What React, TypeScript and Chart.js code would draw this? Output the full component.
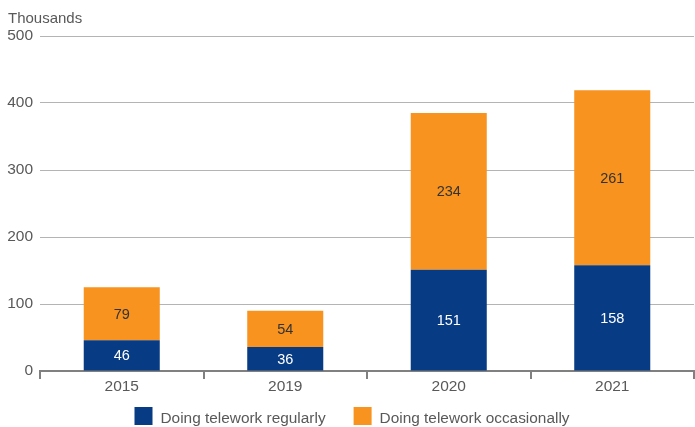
import { useEffect, useRef } from 'react';
import { Chart, registerables } from 'chart.js';

Chart.register(...registerables);

const years = ['2015', '2019', '2020', '2021'];
const regularValues = [46, 36, 151, 158];
const occasionalValues = [79, 54, 234, 261];
const seriesNames = ['Doing telework regularly', 'Doing telework occasionally'];
const seriesColors = ['#073B84', '#F7931E'];
const labelColors = ['#FFFFFF', '#333333'];
const yMin = 0;
const yMax = 500;
const yStep = 100;
const unitLabel = 'Thousands';

const FONT = "'Liberation Sans', Arial, sans-serif";
const TEXT = '#595959';

const valueLabelPlugin = {
  id: 'valueLabels',
  afterDatasetsDraw(chart: any) {
    const ctx = chart.ctx;
    ctx.save();
    ctx.font = `14.5px ${FONT}`;
    ctx.textAlign = 'center';
    ctx.textBaseline = 'middle';
    chart.data.datasets.forEach((ds: any, di: number) => {
      const meta = chart.getDatasetMeta(di);
      meta.data.forEach((bar: any, i: number) => {
        const { x, y, base } = bar.getProps(['x', 'y', 'base'], true);
        ctx.fillStyle = labelColors[di];
        ctx.fillText(String(ds.data[i]), x, (y + base) / 2 + 1);
      });
    });
    ctx.restore();
  },
};

const titleAndLegendPlugin = {
  id: 'titleAndLegend',
  afterDraw(chart: any) {
    const ctx = chart.ctx;
    ctx.save();
    ctx.font = `15px ${FONT}`;
    ctx.fillStyle = TEXT;
    ctx.textAlign = 'left';
    ctx.textBaseline = 'alphabetic';
    ctx.fillText(unitLabel, 8, 23);

    ctx.font = `15.4px ${FONT}`;
    const box = 18;
    const gap = 8;
    const itemGap = 28;
    const widths = chart.data.datasets.map((ds: any) => ctx.measureText(ds.label).width);
    const total = widths.reduce((a: number, w: number) => a + box + gap + w, 0) + itemGap * (widths.length - 1);
    let x = chart.width / 2 + 4.5 - total / 2;
    const boxTop = 407;
    chart.data.datasets.forEach((ds: any, i: number) => {
      ctx.fillStyle = ds.backgroundColor;
      ctx.fillRect(x, boxTop, box, box);
      ctx.fillStyle = TEXT;
      ctx.fillText(ds.label, x + box + gap, boxTop + 16);
      x += box + gap + widths[i] + itemGap;
    });
    ctx.restore();
  },
};

export default function App() {
  const canvasRef = useRef<HTMLCanvasElement | null>(null);

  useEffect(() => {
    if (!canvasRef.current) return;
    const chart = new Chart(canvasRef.current, {
      type: 'bar',
      data: {
        labels: years,
        datasets: [
          {
            label: seriesNames[0],
            data: regularValues,
            backgroundColor: seriesColors[0],
            barPercentage: 0.465,
            categoryPercentage: 1,
          },
          {
            label: seriesNames[1],
            data: occasionalValues,
            backgroundColor: seriesColors[1],
            barPercentage: 0.465,
            categoryPercentage: 1,
          },
        ],
      },
      options: {
        animation: false,
        responsive: true,
        maintainAspectRatio: false,
        layout: { padding: { top: 36, right: 1, bottom: 0, left: 0 } },
        plugins: {
          legend: { display: false },
          tooltip: { enabled: false },
        },
        scales: {
          x: {
            stacked: true,
            offset: true,
            grid: {
              display: true,
              offset: true,
              drawOnChartArea: false,
              drawTicks: true,
              tickLength: 8,
              color: '#808080',
              lineWidth: 2,
            },
            border: { display: true, color: '#808080', width: 2 },
            ticks: {
              color: TEXT,
              font: { family: FONT, size: 15.5 },
              padding: -2,
            },
            afterFit(scale: any) {
              scale.height = 56;
            },
          },
          y: {
            stacked: true,
            min: yMin,
            max: yMax,
            ticks: {
              stepSize: yStep,
              color: TEXT,
              font: { family: FONT, size: 15.5 },
              padding: 7,
            },
            grid: {
              color: '#B4B4B4',
              lineWidth: 1,
              drawTicks: false,
            },
            border: { display: false },
            afterFit(scale: any) {
              scale.width = 40;
            },
          },
        },
      },
      plugins: [valueLabelPlugin, titleAndLegendPlugin],
    });
    return () => chart.destroy();
  }, []);

  return (
    <div style={{ position: 'fixed', left: 0, top: 0, width: 695, height: 427, background: '#fff' }}>
      <canvas ref={canvasRef} />
    </div>
  );
}
